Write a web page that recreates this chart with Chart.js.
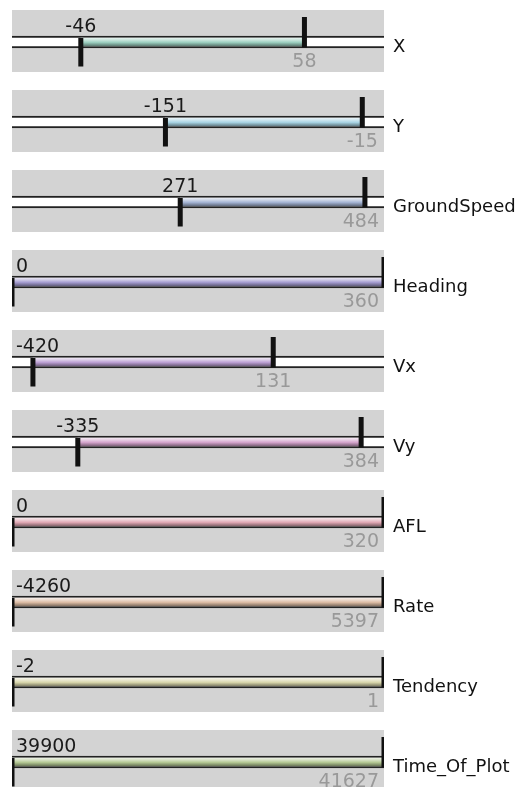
<!DOCTYPE html>
<html>
<head>
<meta charset="utf-8">
<script src="https://cdn.jsdelivr.net/npm/chart.js@4"></script>
<style>
    html, body { margin: 0; padding: 0; background: #fff; overflow: hidden; }
    canvas { display: block; }
</style>
</head>
<body>
<div id="rows"></div>
<script>
// one row per variable: current range [lows, highs] inside the full scale [scaleMins, scaleMaxs]
const names = ['X', 'Y', 'GroundSpeed', 'Heading', 'Vx', 'Vy', 'AFL', 'Rate', 'Tendency', 'Time_Of_Plot'];
const lows = [-46, -151, 271, 0, -420, -335, 0, -4260, -2, 39900];
const highs = [58, -15, 484, 360, 131, 384, 320, 5397, 1, 41627];
const scaleMins = [-78, -257, 77, 0, -468, -502, 0, -4260, -2, 39900];
const scaleMaxs = [95, 0, 506, 360, 385, 442, 320, 5397, 1, 41627];
const colors = ['#9ccfc0', '#a8d4e4', '#a4b4d4', '#a49cd0', '#bca0d4', '#d4a4cc', '#e0a8b4', '#dcbca4', '#d8d6ac', '#b4c894'];

function mix(hex, target, f) {
    let r = parseInt(hex.slice(1, 3), 16);
    let g = parseInt(hex.slice(3, 5), 16);
    let b = parseInt(hex.slice(5, 7), 16);
    r = Math.round(r + (target - r) * f);
    g = Math.round(g + (target - g) * f);
    b = Math.round(b + (target - b) * f);
    return 'rgb(' + r + ',' + g + ',' + b + ')';
}

const rangeDecor = {
    id: 'rangeDecor',
    beforeDatasetsDraw(chart) {
        let ctx = chart.ctx;
        let area = chart.chartArea;
        ctx.save();
        ctx.fillStyle = '#d3d3d3';
        ctx.fillRect(area.left, 10, area.right - area.left, 62);
        ctx.restore();
    },
    afterDatasetsDraw(chart, args, opts) {
        let i = opts.row;
        let ctx = chart.ctx;
        let area = chart.chartArea;
        let loX = chart.scales.x.getPixelForValue(lows[i]);
        let hiX = chart.scales.x.getPixelForValue(highs[i]);

        // min / max markers
        ctx.save();
        ctx.beginPath();
        ctx.rect(area.left, 0, area.right - area.left, chart.height);
        ctx.clip();
        ctx.strokeStyle = '#111';
        ctx.lineWidth = 5;
        ctx.beginPath();
        ctx.moveTo(loX, 38);
        ctx.lineTo(loX, 66.5);
        ctx.moveTo(hiX, 17);
        ctx.lineTo(hiX, 47.5);
        ctx.stroke();
        ctx.restore();

        // value labels
        ctx.save();
        ctx.font = '19px "DejaVu Sans"';
        ctx.textBaseline = 'alphabetic';
        ctx.textAlign = 'left';
        let t = String(lows[i]);
        let w = ctx.measureText(t).width;
        let tx = Math.min(Math.max(loX - w / 2, area.left + 4), area.right - 5 - w);
        ctx.fillStyle = '#1a1a1a';
        ctx.fillText(t, tx, 32);

        t = String(highs[i]);
        w = ctx.measureText(t).width;
        tx = Math.min(Math.max(hiX - w / 2, area.left + 4), area.right - 5 - w);
        ctx.fillStyle = '#999999';
        ctx.fillText(t, tx, 67);

        ctx.font = '18px "DejaVu Sans"';
        ctx.fillStyle = '#111';
        ctx.fillText(names[i], area.right + 9, 51.5);
        ctx.restore();
    }
};

function createRangeChart(i) {
    let canvas = document.createElement('canvas');
    canvas.id = 'rangeChart' + i;
    canvas.width = 519;
    canvas.height = 80;
    document.getElementById('rows').appendChild(canvas);

    let ctx = canvas.getContext('2d');
    let myChart = new Chart(ctx, {
        type: 'bar',
        data: {
            labels: [names[i]],
            datasets: [{
                label: 'range',
                data: [[lows[i], highs[i]]],
                grouped: false,
                order: 1,
                barThickness: 8,
                borderWidth: 0,
                backgroundColor: function (context) {
                    let chart = context.chart;
                    if (!chart.chartArea) {
                        return colors[i];
                    }
                    let cy = chart.scales.y.getPixelForValue(0);
                    let g = chart.ctx.createLinearGradient(0, cy - 4, 0, cy + 4);
                    g.addColorStop(0, mix(colors[i], 255, 0.75));
                    g.addColorStop(0.25, mix(colors[i], 255, 0.45));
                    g.addColorStop(0.55, colors[i]);
                    g.addColorStop(1, mix(colors[i], 0, 0.4));
                    return g;
                }
            }, {
                label: 'track',
                data: [[scaleMins[i], scaleMaxs[i]]],
                grouped: false,
                order: 2,
                barThickness: 12,
                backgroundColor: '#ffffff',
                borderColor: '#222222',
                borderWidth: {top: 2, bottom: 2, left: 0, right: 0},
                borderSkipped: false
            }]
        },
        options: {
            indexAxis: 'y',
            responsive: false,
            animation: false,
            devicePixelRatio: 1,
            layout: {
                padding: {left: 12, right: 135, top: 11, bottom: 7}
            },
            scales: {
                x: {
                    display: false,
                    min: scaleMins[i],
                    max: scaleMaxs[i]
                },
                y: {
                    display: false
                }
            },
            plugins: {
                legend: {display: false},
                tooltip: {enabled: false},
                rangeDecor: {row: i}
            }
        },
        plugins: [rangeDecor]
    });
}

for (let i = 0; i < names.length; i++) {
    createRangeChart(i);
}
</script>
</body>
</html>
